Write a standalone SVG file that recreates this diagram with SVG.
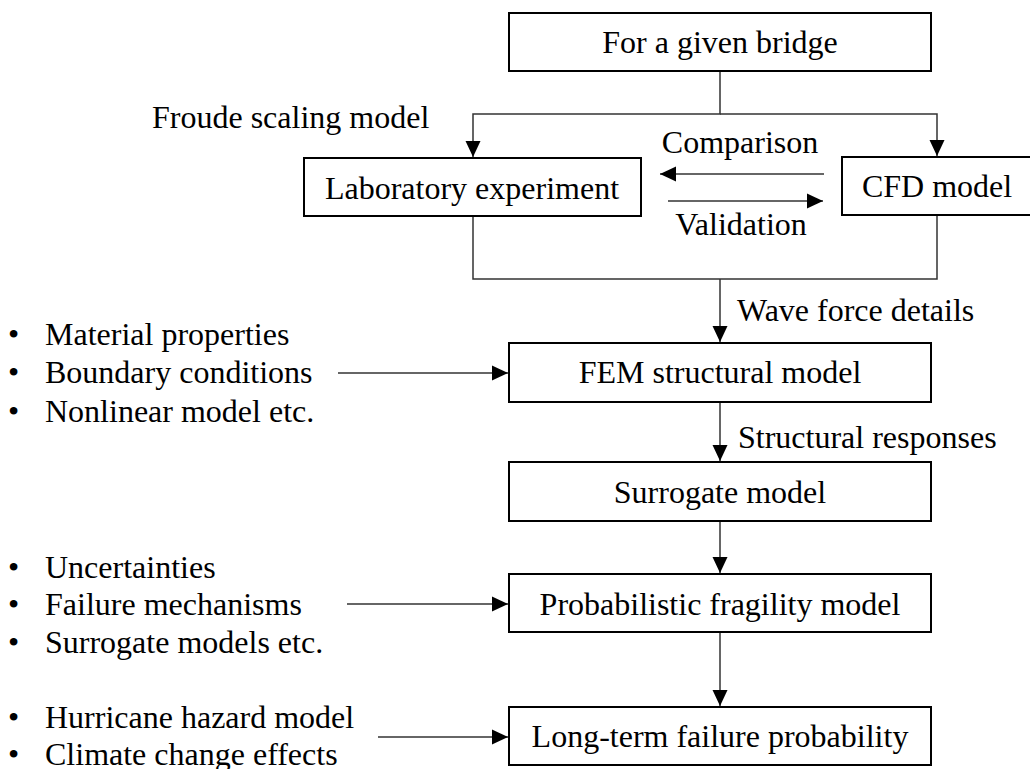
<svg xmlns="http://www.w3.org/2000/svg" width="1030" height="769" viewBox="0 0 1030 769">
<style>
text{font-family:'Liberation Serif','Times New Roman',Tinos,'DejaVu Serif',serif;font-size:32px;fill:#000}
.c{text-anchor:middle}
.box{fill:#fff;stroke:#000;stroke-width:2}
.ln{fill:none;stroke:#333;stroke-width:1.5}
</style>
<defs>
<marker id="ah" markerUnits="userSpaceOnUse" markerWidth="16" markerHeight="16" viewBox="0 0 16 16" refX="16" refY="8" orient="auto">
<path d="M0,0.5 L16,8 L0,15.5 Z" fill="#000"/>
</marker>
</defs>
<rect width="1030" height="769" fill="#fff"/>
<g id="connectors">
<path class="ln" d="M720 71 V114 H473 V157" marker-end="url(#ah)"/>
<path class="ln" d="M720 114 H937 V156" marker-end="url(#ah)"/>
<path class="ln" d="M824 174 H660" marker-end="url(#ah)"/>
<path class="ln" d="M668 201 H823" marker-end="url(#ah)"/>
<path class="ln" d="M473 216 V279 H937 V215"/>
<path class="ln" d="M720 279 V342" marker-end="url(#ah)"/>
<path class="ln" d="M720 402 V461" marker-end="url(#ah)"/>
<path class="ln" d="M720 521 V573" marker-end="url(#ah)"/>
<path class="ln" d="M720 632 V706" marker-end="url(#ah)"/>
<path class="ln" d="M338 373 H508" marker-end="url(#ah)"/>
<path class="ln" d="M347 604 H508" marker-end="url(#ah)"/>
<path class="ln" d="M378 737 H508" marker-end="url(#ah)"/>
</g>
<g id="n-bridge"><rect class="box" x="509" y="13" width="422" height="58"/><text class="c" x="720" y="53" font-family="Liberation Serif, serif">For a given bridge</text></g>
<g id="n-lab"><rect class="box" x="304" y="158" width="337" height="58"/><text class="c" x="472" y="199" font-family="Liberation Serif, serif">Laboratory experiment</text></g>
<g id="n-cfd"><rect class="box" x="842" y="157" width="192" height="58"/><text class="c" x="937" y="197" font-family="Liberation Serif, serif">CFD model</text></g>
<g id="n-fem"><rect class="box" x="509" y="343" width="422" height="59"/><text class="c" x="720" y="383" font-family="Liberation Serif, serif">FEM structural model</text></g>
<g id="n-sur"><rect class="box" x="509" y="462" width="422" height="59"/><text class="c" x="720" y="503" font-family="Liberation Serif, serif">Surrogate model</text></g>
<g id="n-prob"><rect class="box" x="509" y="574" width="422" height="58"/><text class="c" x="720" y="615" font-family="Liberation Serif, serif">Probabilistic fragility model</text></g>
<g id="n-long"><rect class="box" x="509" y="707" width="422" height="58"/><text class="c" x="720" y="747" font-family="Liberation Serif, serif">Long-term failure probability</text></g>
<g id="labels" font-family="Liberation Serif, serif">
<text x="152" y="128">Froude scaling model</text>
<text class="c" x="740" y="153">Comparison</text>
<text class="c" x="741" y="235">Validation</text>
<text x="737" y="321">Wave force details</text>
<text x="738" y="448">Structural responses</text>
</g>
<g id="list-fem">
<text x="8" y="345">•</text><text x="45" y="345">Material properties</text>
<text x="8" y="383">•</text><text x="45" y="383">Boundary conditions</text>
<text x="8" y="422">•</text><text x="45" y="422">Nonlinear model etc.</text>
</g>
<g id="list-prob">
<text x="8" y="578">•</text><text x="45" y="578">Uncertainties</text>
<text x="8" y="615">•</text><text x="45" y="615">Failure mechanisms</text>
<text x="8" y="653">•</text><text x="45" y="653">Surrogate models etc.</text>
</g>
<g id="list-long">
<text x="8" y="728">•</text><text x="45" y="728">Hurricane hazard model</text>
<text x="8" y="765">•</text><text x="45" y="765">Climate change effects</text>
</g>
</svg>
